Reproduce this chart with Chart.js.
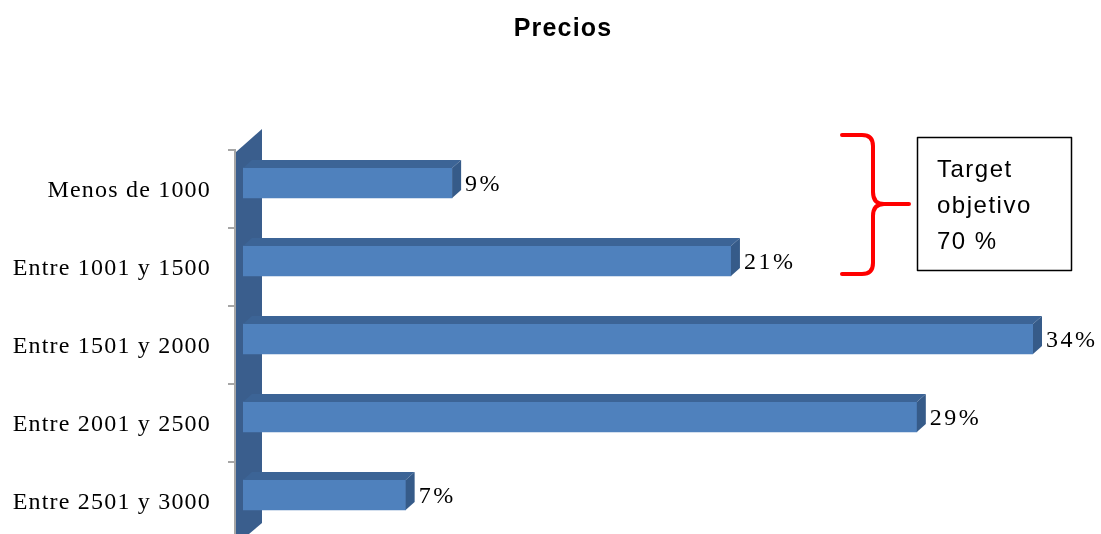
<!DOCTYPE html>
<html>
<head>
<meta charset="utf-8">
<script src="https://cdn.jsdelivr.net/npm/chart.js@4/dist/chart.umd.min.js"></script>
<style>
html,body{margin:0;padding:0;background:#fff;}
#wrap{width:1101px;height:534px;}
</style>
</head>
<body>
<div id="wrap"><canvas id="c" width="1101" height="534"></canvas></div>
<script>
const categories = ['Menos de 1000', 'Entre 1001 y 1500', 'Entre 1501 y 2000', 'Entre 2001 y 2500', 'Entre 2501 y 3000'];
const percentages = [9, 21, 34, 29, 7];
const chartTitle = 'Precios';
const noteLines = ['Target', 'objetivo', '70 %'];

const FRONT = '#4F81BD', TOP = '#3C6496', SIDE = '#365B89', WALL = '#3A5E8D';
const DX = 9, DY = 8;

const threeD = {
  id: 'threeD',
  afterLayout(chart) {
    if (chart.titleBlock) {
      // centre the title where the original puts it (x ≈ 563)
      chart.titleBlock.left = 93;
    }
  },
  beforeDraw(chart) {
    chart.ctx.letterSpacing = '1.2px';
  },
  beforeDatasetsDraw(chart) {
    const ctx = chart.ctx, y = chart.scales.y, area = chart.chartArea;
    const band = (y.getPixelForTick(1) - y.getPixelForTick(0));
    const topB = y.getPixelForTick(0) - band / 2 + 6;
    ctx.save();
    ctx.fillStyle = WALL;
    ctx.beginPath();
    ctx.moveTo(236, topB + 2);
    ctx.lineTo(262, topB - 21);
    ctx.lineTo(262, area.bottom - 11);
    ctx.lineTo(236, area.bottom + 11);
    ctx.closePath();
    ctx.fill();
    ctx.strokeStyle = '#A6A6A6';
    ctx.lineWidth = 2;
    ctx.beginPath();
    ctx.moveTo(235, topB);
    ctx.lineTo(235, area.bottom);
    ctx.stroke();
    for (let i = 0; i < categories.length; i++) {
      const ty = y.getPixelForTick(i) - band / 2 + 6;
      ctx.beginPath();
      ctx.moveTo(228, ty);
      ctx.lineTo(236, ty);
      ctx.stroke();
    }
    ctx.restore();
  },
  afterDatasetsDraw(chart) {
    const ctx = chart.ctx;
    const meta = chart.getDatasetMeta(0);
    ctx.save();
    meta.data.forEach((bar, i) => {
      const h = bar.height;
      const top = bar.y - h / 2, bot = bar.y + h / 2;
      const x = bar.x, b = bar.base;
      ctx.fillStyle = TOP;
      ctx.beginPath();
      ctx.moveTo(b, top);
      ctx.lineTo(b + DX, top - DY);
      ctx.lineTo(x + DX, top - DY);
      ctx.lineTo(x, top);
      ctx.closePath();
      ctx.fill();
      ctx.fillStyle = SIDE;
      ctx.beginPath();
      ctx.moveTo(x, top);
      ctx.lineTo(x + DX, top - DY);
      ctx.lineTo(x + DX, bot - DY);
      ctx.lineTo(x, bot);
      ctx.closePath();
      ctx.fill();
      ctx.fillStyle = '#000';
      ctx.font = '24px "Liberation Serif", "Times New Roman", serif';
      ctx.textAlign = 'left';
      ctx.textBaseline = 'middle';
      ctx.letterSpacing = '2.5px';
      ctx.fillText(percentages[i] + '%', x + DX + 4, bar.y + 2);
    });
    ctx.restore();
  },
  afterDraw(chart) {
    const ctx = chart.ctx;
    ctx.save();
    ctx.strokeStyle = '#FF0000';
    ctx.lineWidth = 4;
    ctx.lineCap = 'round';
    ctx.lineJoin = 'round';
    ctx.beginPath();
    ctx.moveTo(842, 135);
    ctx.lineTo(862, 135);
    ctx.quadraticCurveTo(873, 135, 873, 146);
    ctx.lineTo(873, 192);
    ctx.quadraticCurveTo(873, 204, 884, 204);
    ctx.lineTo(909, 204);
    ctx.moveTo(884, 204);
    ctx.quadraticCurveTo(873, 204, 873, 216);
    ctx.lineTo(873, 263);
    ctx.quadraticCurveTo(873, 274, 862, 274);
    ctx.lineTo(842, 274);
    ctx.stroke();
    ctx.strokeStyle = '#000';
    ctx.lineWidth = 1.5;
    ctx.strokeRect(917.5, 137.5, 154, 133);
    ctx.fillStyle = '#000';
    ctx.font = '24px "Liberation Sans", Arial, sans-serif';
    ctx.textAlign = 'left';
    ctx.textBaseline = 'alphabetic';
    ctx.letterSpacing = '1.5px';
    noteLines.forEach((t, i) => ctx.fillText(t, 937, 177 + i * 36));
    ctx.restore();
  }
};

new Chart(document.getElementById('c'), {
  type: 'bar',
  data: {
    labels: categories,
    datasets: [{
      data: percentages,
      backgroundColor: FRONT,
      borderWidth: 0,
      barThickness: 30
    }]
  },
  options: {
    indexAxis: 'y',
    responsive: false,
    animation: false,
    devicePixelRatio: 1,
    layout: { padding: { left: 0, right: 68, top: 0, bottom: 0 } },
    plugins: {
      legend: { display: false },
      tooltip: { enabled: false },
      title: {
        display: true,
        text: chartTitle,
        color: '#000',
        font: { family: '"Liberation Sans", Arial, sans-serif', size: 25, weight: 'bold', lineHeight: 1.2 },
        padding: { top: 14, bottom: 100 }
      }
    },
    scales: {
      x: {
        display: false,
        min: 0,
        max: 34
      },
      y: {
        grid: { display: false },
        border: { display: false },
        afterFit(scale) { scale.width = 243; scale.paddingTop = 0; scale.paddingBottom = 0; },
        ticks: {
          color: '#000',
          padding: 24,
          labelOffset: 8,
          font: { family: '"Liberation Serif", "Times New Roman", serif', size: 24 }
        }
      }
    }
  },
  plugins: [threeD]
});
</script>
</body>
</html>
